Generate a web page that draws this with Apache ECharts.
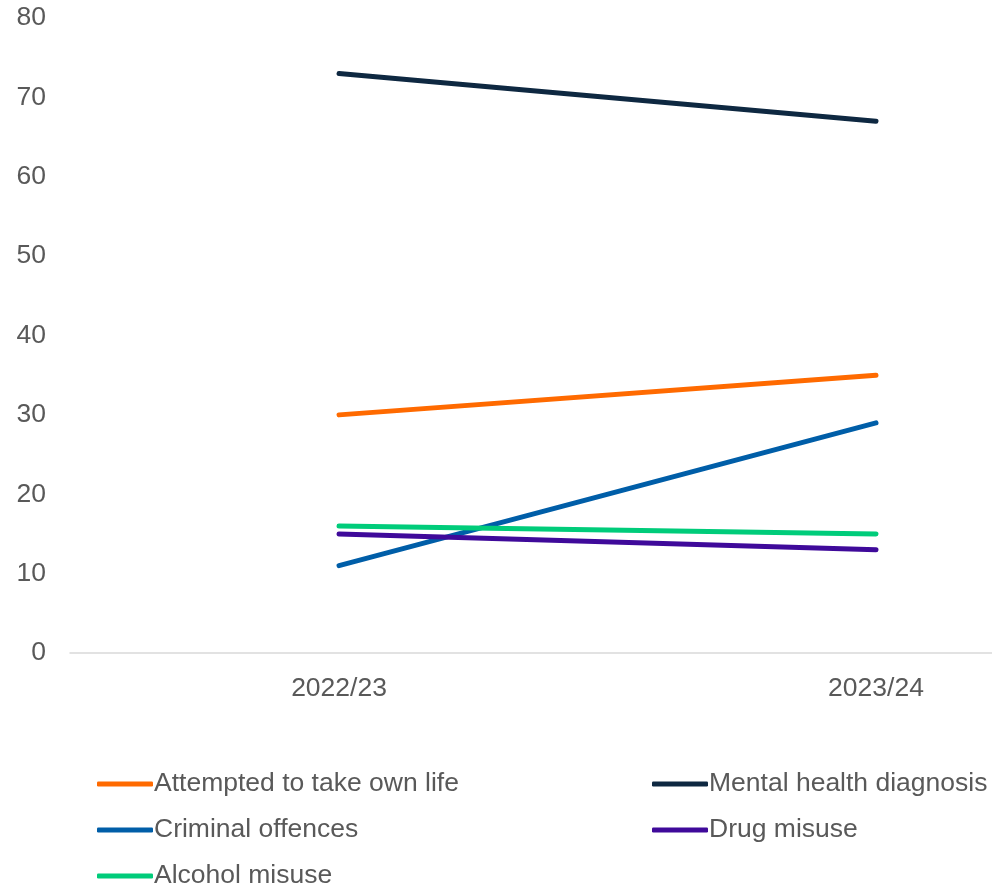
<!DOCTYPE html>
<html>
<head>
<meta charset="utf-8">
<script src="https://cdn.jsdelivr.net/npm/echarts@6/dist/echarts.min.js"></script>
<style>
  html, body { margin: 0; padding: 0; background: #fff; }
  #chart { width: 992px; height: 886px; }
</style>
</head>
<body>
<div id="chart"></div>
<script>
// Years on the horizontal axis
const categories = ['2022/23', '2023/24'];

// Percentages per year
const attemptedOwnLife = [30, 35];
const mentalHealth = [73, 67];
const criminalOffences = [11, 29];
const drugMisuse = [15, 13];
const alcoholMisuse = [16, 15];

const yTicks = [0, 10, 20, 30, 40, 50, 60, 70, 80];

const seriesDefs = [
  { name: 'Attempted to take own life', values: attemptedOwnLife, color: '#FF6A00' },
  { name: 'Mental health diagnosis', values: mentalHealth, color: '#0E2841' },
  { name: 'Criminal offences', values: criminalOffences, color: '#005EA8' },
  { name: 'Drug misuse', values: drugMisuse, color: '#3F0A9A' },
  { name: 'Alcohol misuse', values: alcoholMisuse, color: '#00CC7A' }
];

const textColor = '#595959';
const fontFamily = 'Liberation Sans, Arial, sans-serif';
const fontSize = 26.5;

const chart = echarts.init(document.getElementById('chart'), null, { renderer: 'canvas' });

const legendCommon = {
  orient: 'vertical',
  icon: 'roundRect',
  itemWidth: 56,
  itemHeight: 5,
  itemGap: 16,
  padding: 0,
  height: 160,
  selectedMode: false,
  textStyle: { color: textColor, fontSize: fontSize, fontFamily: fontFamily, lineHeight: 30, padding: [0, 0, 0, -4] }
};

chart.setOption({
  animation: false,
  backgroundColor: '#ffffff',
  grid: { left: 70, right: 0, top: 18, bottom: 233, containLabel: false },
  xAxis: {
    type: 'value',
    min: -0.501,
    max: 1.216,
    splitLine: { show: false },
    axisLine: { show: true, lineStyle: { color: '#D9D9D9', width: 1.5 } },
    axisTick: { show: false },
    axisLabel: {
      customValues: categories.map((c, i) => i),
      formatter: v => categories[Math.round(v)],
      color: textColor,
      fontSize: fontSize,
      fontFamily: fontFamily,
      margin: 22
    }
  },
  yAxis: {
    type: 'value',
    min: yTicks[0],
    max: yTicks[yTicks.length - 1],
    interval: 10,
    splitLine: { show: false },
    axisLine: { show: false },
    axisTick: { show: false },
    axisLabel: { color: textColor, fontSize: fontSize, fontFamily: fontFamily, margin: 24 }
  },
  legend: [
    Object.assign({}, legendCommon, {
      left: 97, top: 769,
      data: ['Attempted to take own life', 'Criminal offences', 'Alcohol misuse']
    }),
    Object.assign({}, legendCommon, {
      left: 652, top: 769,
      data: ['Mental health diagnosis', 'Drug misuse']
    })
  ],
  series: seriesDefs.map(s => ({
    name: s.name,
    type: 'line',
    data: s.values.map((v, i) => [i, v]),
    symbol: 'none',
    color: s.color,
    lineStyle: { color: s.color, width: 5, cap: 'round' },
    itemStyle: { color: s.color }
  }))
});
</script>
</body>
</html>
